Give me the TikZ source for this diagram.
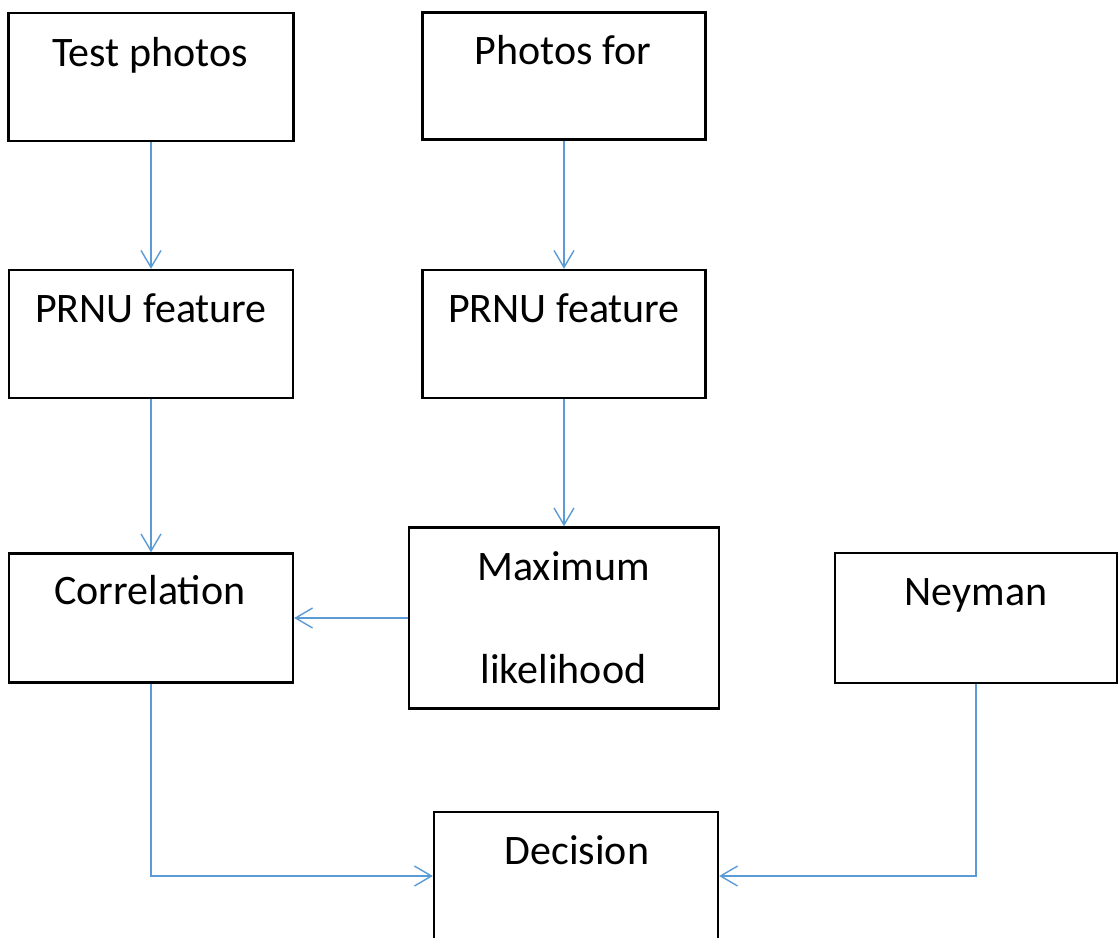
\documentclass[tikz,border=0pt]{standalone}
\usepackage{fontspec}
\setmainfont{Carlito}
\usetikzlibrary{arrows.meta}
\definecolor{linkblue}{RGB}{91,155,213}
\begin{document}
\begin{tikzpicture}[x=1pt,y=-1pt,
  box/.style={draw=black,line width=2.4pt,rectangle,inner sep=0pt},
  lbl/.style={anchor=base,inner sep=0pt,font=\fontsize{42}{50}\selectfont},
  conn/.style={draw=linkblue,line width=1.4pt,-{Straight Barb[length=17pt,width=20pt]}}]
\useasboundingbox (0,0) rectangle (1118,937);
% boxes
\node[box,minimum width=285pt,minimum height=128pt] (tp)  at (151,77)   {};
\node[box,minimum width=283pt,minimum height=127pt] (pf)  at (564,76)   {};
\node[box,minimum width=284pt,minimum height=128pt] (prl) at (151,334)  {};
\node[box,minimum width=283pt,minimum height=128pt] (prr) at (564,334)  {};
\node[box,minimum width=284pt,minimum height=129pt] (cor) at (151,618)  {};
\node[box,minimum width=310pt,minimum height=181pt] (ml)  at (564,618)  {};
\node[box,minimum width=282pt,minimum height=130pt] (ney) at (976,618)  {};
\node[box,minimum width=284pt,minimum height=128pt] (dec) at (576,876)  {};
% texts
\node[lbl] (tpt)  at (150,66)    {Test photos};
\node[lbl] (pft)  at (563,64)    {Photos for};
\node[lbl] (prlt) at (151,322)   {PRNU feature};
\node[lbl] (prrt) at (564,322)   {PRNU feature};
\node[lbl] (cort) at (150,604)   {Correlation};
\node[lbl] (mlt1) at (563.5,580) {Maximum};
\node[lbl] (mlt2) at (563.5,683) {likelihood};
\node[lbl] (neyt) at (976,605)   {Neyman};
\node[lbl] (dect) at (577,864)   {Decision};
% connectors
\draw[conn] (tp.south) -- (prl.north);
\draw[conn] (pf.south) -- (prr.north);
\draw[conn] (prl.south) -- (cor.north);
\draw[conn] (prr.south) -- (ml.north);
\draw[conn] (ml.west) -- (cor.east);
\draw[conn] (cor.south) |- (dec.west);
\draw[conn] (ney.south) |- (dec.east);
\end{tikzpicture}
\end{document}
